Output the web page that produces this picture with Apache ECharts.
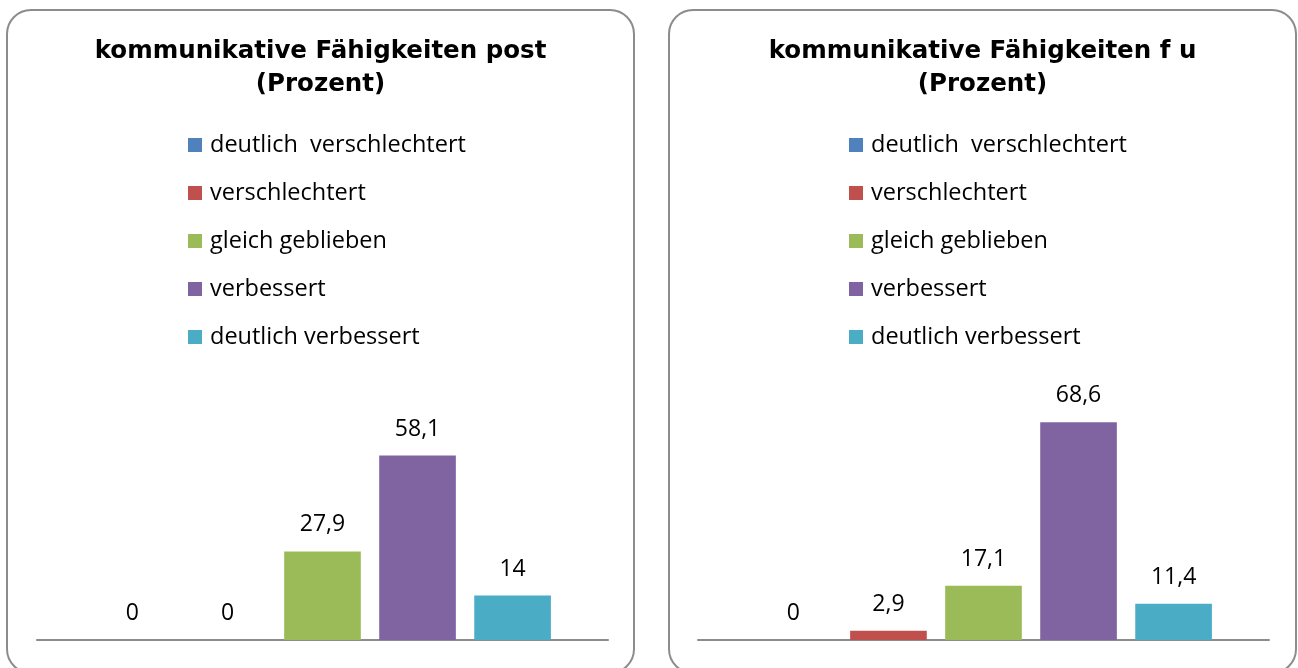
<!DOCTYPE html>
<html>
<head>
<meta charset="utf-8">
<title>kommunikative Fähigkeiten</title>
<script src="https://cdn.jsdelivr.net/npm/echarts@6/dist/echarts.min.js"></script>
<style>
  html, body { margin: 0; padding: 0; background: #ffffff; }
  #chart { width: 1298px; height: 668px; }
</style>
</head>
<body>
<div id="chart"></div>
<script>
// Response categories (legend entries) and their colours
const categories = ['deutlich  verschlechtert', 'verschlechtert', 'gleich geblieben', 'verbessert', 'deutlich verbessert'];
const colors = ['#4F81BD', '#C0504D', '#9BBB59', '#8064A2', '#4BACC6'];

// Percentages per category
const postValues = [0, 0, 27.9, 58.1, 14];
const fuValues = [0, 2.9, 17.1, 68.6, 11.4];

// Panel titles
const titles = ['kommunikative Fähigkeiten post\n(Prozent)', 'kommunikative Fähigkeiten f u\n(Prozent)'];
const panelData = [postValues, fuValues];

const chart = echarts.init(document.getElementById('chart'), null, { renderer: 'canvas' });

const panelLeft = [7, 669];
const panelWidth = 627;
const gridLeft = [37, 698];
const gridWidth = 571;

const labelFont = { fontFamily: 'Open Sans', fontSize: 23, color: '#000000' };

const series = [];
panelData.forEach((values, p) => {
  categories.forEach((name, i) => {
    series.push({
      type: 'bar',
      name: name,
      xAxisIndex: p,
      yAxisIndex: p,
      data: [values[i]],
      barGap: '24%',
      barCategoryGap: '20%',
      itemStyle: { color: colors[i] },
      label: {
        show: true,
        position: 'top',
        distance: 15,
        ...labelFont,
        formatter: (d) => String(d.value).replace('.', ',')
      },
      emphasis: { disabled: true },
      animation: false
    });
  });
});

const option = {
  backgroundColor: '#ffffff',
  animation: false,
  graphic: panelLeft.map((x) => ({
    type: 'rect',
    silent: true,
    z: -1,
    shape: { x: x, y: 10, width: panelWidth, height: 663, r: 24 },
    style: { fill: '#ffffff', stroke: '#8c8c8c', lineWidth: 2 }
  })),
  title: titles.map((t, p) => ({
    text: t,
    left: panelLeft[p] + panelWidth / 2,
    top: 35,
    textAlign: 'center',
    padding: 0,
    textStyle: {
      fontFamily: 'DejaVu Sans',
      fontWeight: 'bold',
      fontSize: 24.5,
      lineHeight: 33,
      color: '#000000'
    }
  })),
  legend: [188, 849].map((x) => ({
    orient: 'vertical',
    left: x,
    top: 133,
    padding: 0,
    icon: 'rect',
    itemWidth: 14,
    itemHeight: 14,
    itemGap: 24,
    selectedMode: false,
    data: categories,
    textStyle: {
      fontFamily: 'Open Sans',
      fontSize: 23.5,
      lineHeight: 24,
      color: '#000000',
      padding: [0, 0, 0, 3]
    }
  })),
  grid: gridLeft.map((x) => ({
    left: x,
    width: gridWidth,
    top: 386,
    height: 254,
    containLabel: false
  })),
  xAxis: [0, 1].map((p) => ({
    type: 'category',
    gridIndex: p,
    data: [''],
    axisLine: { show: true, lineStyle: { color: '#8c8c8c', width: 2 } },
    axisTick: { show: false },
    axisLabel: { show: false },
    splitLine: { show: false }
  })),
  yAxis: [0, 1].map((p) => ({
    type: 'value',
    gridIndex: p,
    min: 0,
    max: 80,
    show: false,
    splitLine: { show: false }
  })),
  series: series
};

chart.setOption(option);
</script>
</body>
</html>
